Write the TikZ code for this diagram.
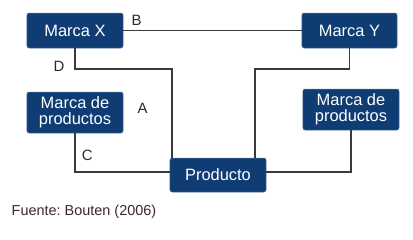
\documentclass[tikz,border=0pt]{standalone}
\usepackage{fontspec}
\setmainfont{Liberation Sans}
\usepackage{xcolor}
\usetikzlibrary{positioning, calc}

\definecolor{marcaazul}{HTML}{0F3D73}
\definecolor{lineagris}{HTML}{3A3A3A}
\definecolor{textogris}{HTML}{2B2B2B}

\tikzset{
    marca/.style={fill=marcaazul, draw=marcaazul!70!white, line width=0.5bp, rounded corners=2bp,
        text=white, font=\fontsize{16.5}{16.5}\selectfont, align=center, inner sep=0pt},
    enlace/.style={draw=lineagris, line width=1.8bp},
    letra/.style={text=textogris, font=\fontsize{15}{15}\selectfont, inner sep=0pt}
}

\frenchspacing
\begin{document}
\begin{tikzpicture}[x=1bp, y=-1bp]
    \useasboundingbox (0,0) rectangle (413,240);

    % ================= Cajas =================
    \node[marca, minimum width=96bp, minimum height=35bp] (marcaX) at (75, 30.5) {Marca X};
    \node[marca, minimum width=95bp, minimum height=35bp] (marcaY) at (349.5, 30.5) {Marca Y};

    \node[marca, minimum width=96bp, minimum height=41bp] (prodIzq) at (75, 112.5) {Marca de\\productos};
    \node[marca, minimum width=96bp, minimum height=41bp] (prodDer) at (351, 109.5) {Marca de\\productos};

    \node[marca, minimum width=96bp, minimum height=34bp] (producto) at (218, 175) {Producto};

    % ================= Enlaces =================
    \draw[enlace] (marcaX.east) -- (marcaY.west);
    \draw[enlace] (marcaX.south) -- ++(0,21) -| ([xshift=2bp]producto.north west);
    \draw[enlace] (marcaY.south) -- ++(0,21) -| ([xshift=-11bp]producto.north east);
    \draw[enlace] (prodIzq.south) |- ([yshift=3bp]producto.west);
    \draw[enlace] (prodDer.south) |- ([yshift=3bp]producto.east);

    % ================= Letras =================
    \node[letra] (letB) at (136.7, 20) {B};
    \node[letra] (letD) at (59, 66.7) {D};
    \node[letra] (letA) at (142.7, 108) {A};
    \node[letra] (letC) at (87.3, 155) {C};

    % fuente
    \node[letra, anchor=west, text=textogris!90!red, font=\fontsize{14.5}{15}\selectfont] (fuente) at (11.5, 211.7) {Fuente: Bouten (2006)};

\end{tikzpicture}
\end{document}
